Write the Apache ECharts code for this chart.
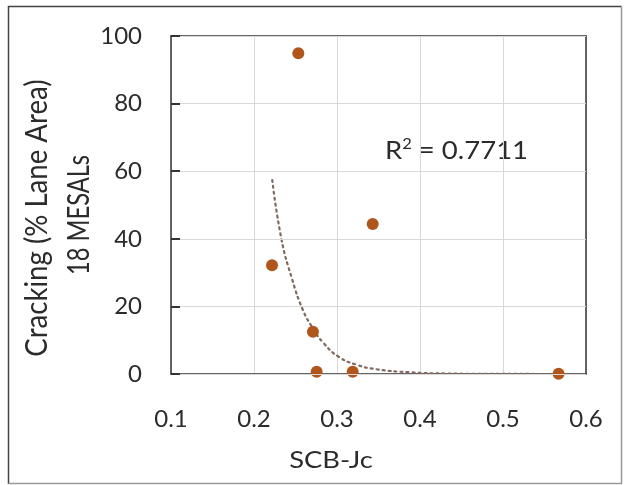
<!DOCTYPE html>
<html>
<head>
<meta charset="utf-8">
<script src="https://cdn.jsdelivr.net/npm/echarts@6/dist/echarts.min.js"></script>
<style>
  html, body { margin: 0; padding: 0; background: #fff; }
  #chart { width: 624px; height: 485px; }
</style>
</head>
<body>
<div id="chart"></div>
<script>
// measured points (SCB-Jc vs cracking)
var jcValues = [0.2534, 0.2217, 0.271, 0.2755, 0.3189, 0.343, 0.567];
var crackValues = [94.9, 32.2, 12.5, 0.7, 0.7, 44.4, 0.1];

// exponential trendline
var trendX = [0.222, 0.233, 0.246, 0.259, 0.271, 0.284, 0.302, 0.324, 0.348, 0.388, 0.43, 0.48, 0.53, 0.567];
var trendY = [57.4, 40, 28, 18.9, 13.5, 9.1, 5.1, 2.7, 1.4, 0.5, 0.15, 0.05, 0.01, 0.003];

var xTicks = [0.1, 0.2, 0.3, 0.4, 0.5, 0.6];
var yTicks = [0, 20, 40, 60, 80, 100];
var r2Text = '0.7711';

var FONT = 'Lato';
var TXT = '#2b2b2b';

var points = [], trend = [];
for (var i = 0; i < jcValues.length; i++) {
	points.push([jcValues[i], crackValues[i]]);
}
for (var j = 0; j < trendX.length; j++) {
	trend.push([trendX[j], trendY[j]]);
}

var myChart = echarts.init(document.getElementById('chart'));

var option = {
	animation: false,
	backgroundColor: '#fff',
	textStyle: { fontFamily: FONT },
	grid: { left: 171, top: 36, width: 415, height: 338 },
	xAxis: [{
		type: 'value',
		min: xTicks[0],
		max: xTicks[xTicks.length - 1],
		interval: 0.1,
		axisLine: { show: true, lineStyle: { color: '#333', width: 1.5 } },
		axisTick: { show: false },
		axisLabel: {
			margin: 33, fontSize: 24, color: TXT, fontFamily: FONT,
			formatter: function (v) { return v.toFixed(1); }
		},
		splitLine: { show: true, lineStyle: { color: '#d9d9d9', width: 1 } }
	}, {
		type: 'value',
		position: 'top',
		min: xTicks[0],
		max: xTicks[xTicks.length - 1],
		axisLine: { show: true, onZero: false, lineStyle: { color: '#333', width: 1.5 } },
		axisTick: { show: false },
		axisLabel: { show: false },
		splitLine: { show: false }
	}],
	yAxis: [{
		type: 'value',
		min: yTicks[0],
		max: yTicks[yTicks.length - 1],
		interval: 20,
		z: 5,
		axisLine: { show: true, lineStyle: { color: '#333', width: 1.5 } },
		axisTick: { show: true, inside: true, length: 9, lineStyle: { color: '#333', width: 2 } },
		axisLabel: { margin: 29, fontSize: 24, color: TXT, fontFamily: FONT },
		splitLine: { show: true, lineStyle: { color: '#d9d9d9', width: 1 } }
	}, {
		type: 'value',
		position: 'right',
		min: yTicks[0],
		max: yTicks[yTicks.length - 1],
		axisLine: { show: true, onZero: false, lineStyle: { color: '#333', width: 1.5 } },
		axisTick: { show: false },
		axisLabel: { show: false },
		splitLine: { show: false }
	}],
	graphic: [{
		type: 'polyline',
		shape: { points: [[8.5, 484], [8.5, 6.5], [621.5, 6.5]] },
		style: { fill: null, stroke: '#444', lineWidth: 1.5 },
		silent: true
	}, {
		type: 'polyline',
		shape: { points: [[621.5, 6.5], [621.5, 483.5], [8.5, 483.5]] },
		style: { fill: null, stroke: '#999', lineWidth: 1.5 },
		silent: true
	}, {
		type: 'text',
		x: 331, y: 461,
		scaleX: 1.19,
		style: {
			text: 'SCB-Jc', font: '23px ' + FONT, fill: TXT,
			align: 'center', verticalAlign: 'middle'
		}
	}, {
		type: 'text',
		x: 37, y: 218,
		rotation: Math.PI / 2,
		scaleX: 0.92,
		style: {
			text: 'Cracking (% Lane Area)', font: '30px ' + FONT, fill: TXT,
			align: 'center', verticalAlign: 'middle'
		}
	}, {
		type: 'text',
		x: 79, y: 215,
		rotation: Math.PI / 2,
		scaleX: 0.79,
		style: {
			text: '18 MESALs', font: '30px ' + FONT, fill: TXT,
			align: 'center', verticalAlign: 'middle'
		}
	}, {
		type: 'text',
		x: 385, y: 151,
		scaleX: 1.1,
		style: {
			text: '{r|R}{s|2}{r| = ' + r2Text + '}',
			fill: TXT, verticalAlign: 'middle',
			rich: {
				r: { fontSize: 25, lineHeight: 28, fontFamily: FONT, color: TXT },
				s: { fontSize: 15, fontFamily: FONT, color: TXT, verticalAlign: 'top' }
			}
		}
	}],
	series: [{
		name: 'trend',
		type: 'line',
		data: trend,
		smooth: true,
		showSymbol: false,
		z: 2,
		lineStyle: { color: '#7f6a5f', width: 2.2, type: [2, 4], cap: 'round' }
	}, {
		name: 'points',
		type: 'scatter',
		data: points,
		symbolSize: 12,
		z: 3,
		itemStyle: { color: '#b0561c', opacity: 1 }
	}]
};

myChart.setOption(option);
</script>
</body>
</html>
